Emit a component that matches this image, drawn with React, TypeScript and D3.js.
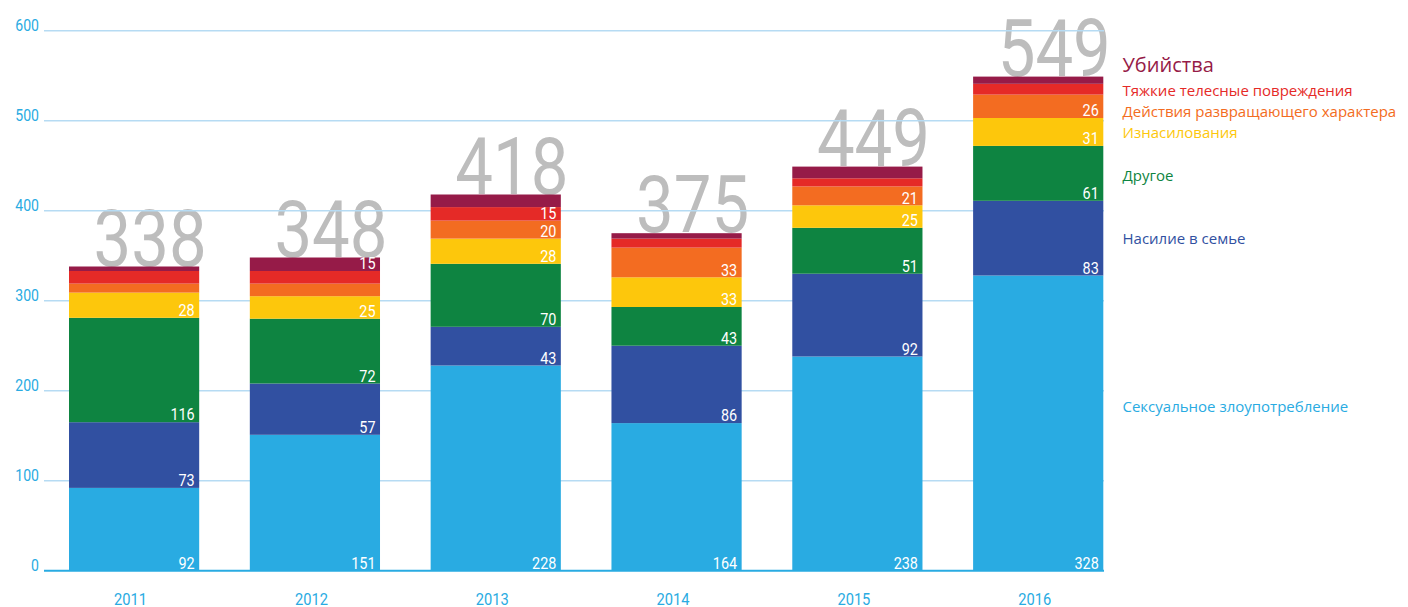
import React from "react";
import * as d3 from "d3";

// years and the seven series, bottom to top
const years = ["2011", "2012", "2013", "2014", "2015", "2016"];
const sexualAbuse = [92, 151, 228, 164, 238, 328];
const domesticViolence = [73, 57, 43, 86, 92, 83];
const otherCrimes = [116, 72, 70, 43, 51, 61];
const rape = [28, 25, 28, 33, 25, 31];
const indecentActs = [10, 14, 20, 33, 21, 26];
const graveInjury = [14, 14, 15, 10, 9, 12];
const murder = [5, 15, 14, 6, 13, 8];
const totals = [338, 348, 418, 375, 449, 549];
const yTicks = [0, 100, 200, 300, 400, 500, 600];

// which values are printed inside the bars
const shownLabels: Record<string, boolean[]> = {
  sexual: [true, true, true, true, true, true],
  domestic: [true, true, true, true, true, true],
  other: [true, true, true, true, true, true],
  rape: [true, true, true, true, true, true],
  indecent: [false, false, true, true, true, true],
  injury: [false, false, true, false, false, false],
  murder: [false, true, false, false, false, false],
};

const series = [
  { key: "sexual", name: "Сексуальное злоупотребление", values: sexualAbuse, color: "#29abe2" },
  { key: "domestic", name: "Насилие в семье", values: domesticViolence, color: "#3150a1" },
  { key: "other", name: "Другое", values: otherCrimes, color: "#0e8441" },
  { key: "rape", name: "Изнасилования", values: rape, color: "#fdc70c" },
  { key: "indecent", name: "Действия развращающего характера", values: indecentActs, color: "#f36c21" },
  { key: "injury", name: "Тяжкие телесные повреждения", values: graveInjury, color: "#e52a27" },
  { key: "murder", name: "Убийства", values: murder, color: "#961b48" },
];

// legend rows: baseline y and size
const legendRows = [
  { key: "murder", y: 72, size: 20 },
  { key: "injury", y: 95.5, size: 15 },
  { key: "indecent", y: 117, size: 15 },
  { key: "rape", y: 138, size: 15 },
  { key: "other", y: 180.5, size: 15 },
  { key: "domestic", y: 244, size: 15 },
  { key: "sexual", y: 411.5, size: 15 },
];

const W = 1408;
const H = 607;
const cond = "Roboto, sans-serif";

export default function App() {
  const x = d3.scaleBand().domain(years).range([69, 1103.3]).paddingInner(0.28).paddingOuter(0);
  const y = d3.scaleLinear().domain([0, 600]).range([570.7, 30.7]);

  const rows = years.map((yr, i) => {
    const r: any = { year: yr };
    series.forEach((s) => (r[s.key] = s.values[i]));
    return r;
  });
  const stacked = d3.stack().keys(series.map((s) => s.key))(rows);

  const bw = x.bandwidth();
  const lineX0 = 44;
  const lineX1 = 1104;

  return (
    <svg width={W} height={H} style={{ position: "absolute", left: 0, top: 0, background: "#fff" }}>
      {/* big totals */}
      {years.map((yr, i) => {
        const t = `${totals[i]}`;
        return (
          <text
            key={"tot" + yr}
            x={(x(yr) as number) + bw + 7.5}
            y={y(totals[i]) - 1}
            textAnchor="end"
            fontFamily={cond}
            fontSize={80}
            fill="#bdbdbd"
            textLength={t.length * 37.7}
            lengthAdjust="spacingAndGlyphs"
          >
            {t}
          </text>
        );
      })}

      {/* grid */}
      {yTicks.slice(1).map((t) => (
        <line key={"g" + t} x1={lineX0} x2={lineX1} y1={y(t)} y2={y(t)} stroke="#b6dbf3" strokeWidth={1.6} />
      ))}
      <line x1={lineX0} x2={lineX1} y1={y(0)} y2={y(0)} stroke="#29abe2" strokeWidth={2} />

      {yTicks.map((t) => (
        <text
          key={"yt" + t}
          x={39}
          y={y(t)}
          textAnchor="end"
          fontFamily={cond}
          fontSize={16.5}
          fill="#29abe2"
          textLength={`${t}`.length * 7.9}
          lengthAdjust="spacingAndGlyphs"
        >
          {t}
        </text>
      ))}

      {/* bars */}
      {stacked.map((layer, li) => (
        <g key={layer.key} fill={series[li].color}>
          {layer.map((d, i) => (
            <rect key={i} x={x(years[i])} y={y(d[1])} width={bw} height={y(d[0]) - y(d[1])} />
          ))}
        </g>
      ))}

      {/* values inside bars */}
      {stacked.map((layer, li) =>
        layer.map((d, i) => {
          if (!shownLabels[layer.key][i]) return null;
          const v = `${series[li].values[i]}`;
          return (
            <text
              key={layer.key + i}
              x={(x(years[i]) as number) + bw - 4.5}
              y={y(d[0]) - 1.8}
              textAnchor="end"
              fontFamily={cond}
              fontSize={16.5}
              fill="#fff"
              textLength={v.length * 8.1}
              lengthAdjust="spacingAndGlyphs"
            >
              {v}
            </text>
          );
        })
      )}

      {/* year labels */}
      {years.map((yr) => (
        <text
          key={"yr" + yr}
          x={(x(yr) as number) + bw / 2 - 3.5}
          y={605}
          textAnchor="middle"
          fontFamily={cond}
          fontSize={17}
          fill="#29abe2"
          textLength={33}
          lengthAdjust="spacingAndGlyphs"
        >
          {yr}
        </text>
      ))}

      {/* legend */}
      {legendRows.map((r) => {
        const s = series.find((q) => q.key === r.key)!;
        return (
          <text key={"lg" + r.key} x={1122.5} y={r.y} fontFamily="'Open Sans', sans-serif" fontSize={r.size} fill={s.color}>
            {s.name}
          </text>
        );
      })}
    </svg>
  );
}
